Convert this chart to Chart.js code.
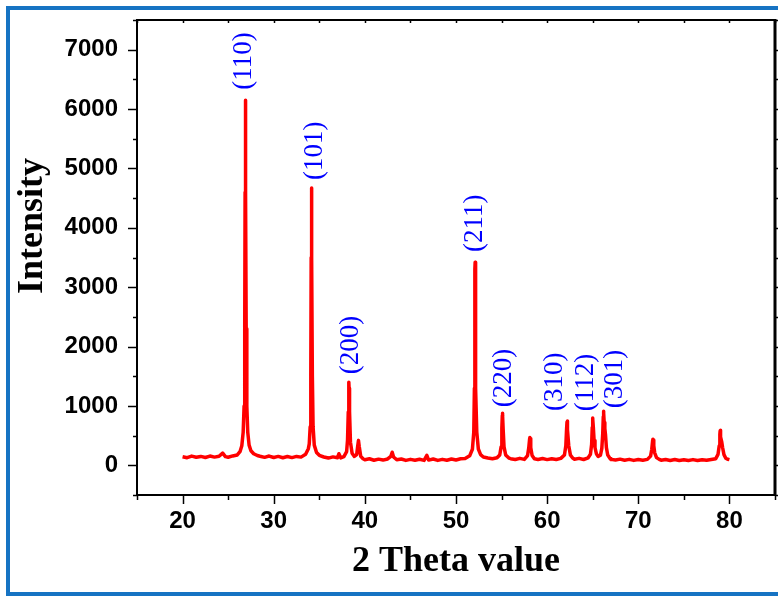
<!DOCTYPE html>
<html>
<head>
<meta charset="utf-8">
<script src="https://cdn.jsdelivr.net/npm/chart.js@4.4.1/dist/chart.umd.min.js"></script>
<style>
  html, body { margin: 0; padding: 0; background: #fff; }
</style>
</head>
<body>
<canvas id="xrdChart" width="778" height="596"></canvas>
<script>
'use strict';

// XRD pattern (2 theta in degrees, intensity in counts)
var twoTheta = [
  20.0, 20.5, 21.0, 21.5, 22.0, 22.5, 23.0, 23.5, 24.0, 24.4, 24.7, 25.0, 25.5, 26.0, 26.3,
  26.5, 26.65, 26.75, 26.82, 26.86, 26.88, 26.9, 26.92, 26.94, 26.98, 27.05, 27.15, 27.3, 27.5, 27.8, 28.2,
  28.5, 29.0, 29.5, 30.0, 30.5, 31.0, 31.5, 32.0, 32.5, 33.0, 33.5, 33.8,
  33.9, 34.0, 34.07, 34.11, 34.13, 34.15, 34.17, 34.19, 34.24, 34.32, 34.45, 34.7, 35.0,
  35.5, 36.0, 36.5, 37.0, 37.15, 37.35, 37.7, 38.0,
  38.1, 38.18, 38.23, 38.25, 38.27, 38.32, 38.42, 38.6, 38.85, 39.1, 39.22, 39.3, 39.38, 39.55, 39.8,
  40.0, 40.5, 41.0, 41.5, 42.0, 42.5, 42.85, 43.0, 43.15, 43.5, 44.0, 44.5, 45.0, 45.5,
  46.0, 46.5, 46.8, 47.0, 47.5, 48.0, 48.5, 49.0, 49.5, 50.0, 50.5, 51.0, 51.5, 51.8,
  51.95, 52.02, 52.06, 52.08, 52.1, 52.12, 52.14, 52.19, 52.28, 52.45, 52.7, 53.0,
  53.5, 54.0, 54.5, 54.8,
  54.95, 55.03, 55.08, 55.1, 55.12, 55.17, 55.27, 55.45, 55.8,
  56.0, 56.5, 57.0, 57.5, 57.85,
  57.98, 58.08, 58.1, 58.12, 58.2, 58.35, 58.6,
  59.0, 59.5, 60.0, 60.5, 61.0, 61.5, 61.9,
  62.05, 62.13, 62.18, 62.2, 62.22, 62.27, 62.37, 62.55, 62.8,
  63.0, 63.5, 64.0, 64.5, 64.75,
  64.88, 64.95, 64.98, 65.0, 65.02, 65.07, 65.15, 65.25, 65.4, 65.6, 65.85, 66.0,
  66.1, 66.16, 66.18, 66.2, 66.22, 66.26, 66.33, 66.4, 66.5, 66.65, 66.9,
  67.0, 67.5, 68.0, 68.5, 69.0, 69.5, 70.0, 70.5, 71.0, 71.35,
  71.48, 71.58, 71.6, 71.62, 71.7, 71.8, 72.0, 72.3,
  72.5, 73.0, 73.5, 74.0, 74.5, 75.0, 75.5, 76.0, 76.5, 77.0, 77.5, 78.0, 78.5, 78.75,
  78.88, 78.95, 78.98, 79.0, 79.02, 79.06, 79.15, 79.25, 79.4, 79.6, 79.8, 80.0
];

var intensity = [
  145, 128, 155, 136, 150, 132, 156, 138, 152, 205, 146, 136, 158, 175, 230,
  330, 560, 1000, 2300, 4600, 5900, 6150, 5900, 4600, 2300, 1000, 560, 340, 245, 195, 165,
  152, 134, 156, 132, 150, 128, 148, 130, 150, 138, 185, 280,
  360, 650, 1500, 3500, 4500, 4670, 4500, 3500, 1500, 650, 340, 215, 168,
  140, 122, 142, 128, 195, 126, 148, 230,
  430, 900, 1300, 1400, 1300, 900, 390, 205, 150, 180, 330, 420, 320, 150, 110,
  94, 110, 86, 104, 88, 107, 150, 220, 140, 93, 107, 83, 100, 86,
  102, 83, 168, 88, 107, 83, 100, 86, 107, 90, 110, 115, 160, 270,
  560, 1300, 2700, 3300, 3420, 3300, 2700, 1300, 560, 275, 180, 140,
  123, 110, 127, 175,
  310, 620, 840, 877, 840, 620, 310, 175, 122,
  112, 98, 117, 100, 165,
  290, 450, 470, 450, 300, 165, 110,
  98, 114, 96, 112, 98, 117, 175,
  330, 600, 730, 747, 730, 600, 330, 175, 122,
  103, 117, 98, 127, 185,
  350, 640, 780, 798, 780, 640, 420, 300, 195, 150, 170, 285,
  540, 820, 890, 910, 880, 720, 620, 520, 300, 172, 115,
  100, 90, 104, 86, 100, 83, 97, 86, 100, 155,
  270, 425, 440, 425, 330, 210, 130, 100,
  86, 98, 82, 97, 80, 94, 82, 96, 80, 94, 84, 98, 112, 185,
  330, 520, 580, 590, 575, 480, 400, 300, 180, 120, 103, 95
];

// Miller indices and where their labels sit (2 theta, intensity at text start)
var peakLabels = ['(110)', '(101)', '(200)', '(211)', '(220)', '(310)', '(112)', '(301)'];
var labelTheta = [27.5, 35.3, 39.26, 52.86, 56.0, 61.6, 65.0, 68.2];
var labelIntensity = [6324, 4806, 1535, 3592, 978, 916, 910, 960];

var xMin = 15, xMax = 85, xStep = 5;
var yMin = -500, yMax = 7500, yStep = 500;

var tickFont = { family: '"Liberation Sans", Arial, sans-serif', size: 24, weight: 'bold' };
var titleFamily = '"Liberation Serif", "Times New Roman", serif';

function line(c, x1, y1, x2, y2) {
  c.beginPath();
  c.moveTo(x1, y1);
  c.lineTo(x2, y2);
  c.stroke();
}

var decorPlugin = {
  id: 'decor',
  beforeDraw: function (chart) {
    var c = chart.ctx;
    c.save();
    c.fillStyle = '#fff';
    c.fillRect(0, 0, chart.width, chart.height);
    c.restore();
  },
  afterDraw: function (chart) {
    var c = chart.ctx;
    var a = chart.chartArea;
    var xs = chart.scales.x;
    var ys = chart.scales.y;
    c.save();

    // outer blue frame (cut off on the right)
    c.fillStyle = '#1673c3';
    c.fillRect(6, 6, chart.width - 6, 4);
    c.fillRect(6, 6, 4, 590);
    c.fillRect(6, 592, chart.width - 6, 4);

    // axes box
    c.strokeStyle = '#000';
    c.lineWidth = 2;
    line(c, a.left, a.top, a.left, a.bottom + 1);
    line(c, a.left - 1, a.bottom, a.right, a.bottom);
    line(c, a.left - 1, a.top, a.right, a.top);
    c.lineWidth = 3;
    line(c, a.right, a.top - 1, a.right, a.bottom + 1);

    // ticks
    c.lineWidth = 1.5;
    xs.ticks.forEach(function (t) {
      var px = Math.round(xs.getPixelForValue(t.value)) + 0.5;
      var len = t.value % 10 === 0 ? 9 : 5;
      line(c, px, a.bottom, px, a.bottom + len);
      line(c, px, a.top, px, a.top + 3);
    });
    ys.ticks.forEach(function (t) {
      var py = Math.round(ys.getPixelForValue(t.value)) + 0.5;
      var len = t.value % 1000 === 0 ? 9 : 4;
      line(c, a.left - len, py, a.left, py);
      line(c, a.right, py, a.right + 4, py);
    });

    // y axis title
    c.fillStyle = '#000';
    c.font = 'bold 36px ' + titleFamily;
    c.textAlign = 'center';
    c.textBaseline = 'alphabetic';
    c.translate(42, 226);
    c.rotate(-Math.PI / 2);
    c.fillText('Intensity', 0, 0);
    c.setTransform(1, 0, 0, 1, 0, 0);

    // peak labels
    c.fillStyle = '#0000ff';
    c.font = '27px ' + titleFamily;
    c.textAlign = 'left';
    peakLabels.forEach(function (txt, i) {
      var px = xs.getPixelForValue(labelTheta[i]);
      var py = ys.getPixelForValue(labelIntensity[i]);
      c.save();
      c.translate(px, py);
      c.rotate(-Math.PI / 2);
      c.fillText(txt, 0, 0);
      c.restore();
    });

    c.restore();
  }
};

var ctx = document.getElementById('xrdChart').getContext('2d');

var xrdChart = new Chart(ctx, {
  type: 'line',
  data: {
    datasets: [
      {
        label: 'XRD',
        data: twoTheta.map(function (t, i) { return { x: t, y: intensity[i] }; }),
        borderColor: '#ff0000',
        borderWidth: 3.5,
        borderJoinStyle: 'round',
        pointRadius: 0,
        tension: 0,
        fill: false
      }
    ]
  },
  options: {
    responsive: false,
    animation: false,
    layout: { padding: { left: 8, top: 20, right: 3, bottom: 3 } },
    plugins: {
      legend: { display: false },
      tooltip: { enabled: false }
    },
    scales: {
      x: {
        type: 'linear',
        min: xMin,
        max: xMax,
        afterFit: function (s) {
          s.height = 98;
          s.paddingLeft = 0;
          s.paddingRight = 0;
        },
        grid: { display: false, drawTicks: false },
        border: { display: false },
        ticks: {
          stepSize: xStep,
          autoSkip: false,
          maxRotation: 0,
          padding: 12,
          color: '#000',
          font: tickFont,
          callback: function (v) { return v % 10 === 0 ? String(v) : ''; }
        },
        title: {
          display: true,
          text: '2 Theta value',
          color: '#000',
          font: { family: titleFamily, size: 36, weight: 'bold' },
          padding: { top: 0, bottom: 10 }
        }
      },
      y: {
        type: 'linear',
        min: yMin,
        max: yMax,
        afterFit: function (s) {
          s.width = 129;
          s.paddingTop = 0;
          s.paddingBottom = 0;
        },
        grid: { display: false, drawTicks: false },
        border: { display: false },
        ticks: {
          stepSize: yStep,
          autoSkip: false,
          padding: 19,
          color: '#000',
          font: tickFont,
          callback: function (v) { return v % 1000 === 0 ? String(v) : ''; }
        }
      }
    }
  },
  plugins: [decorPlugin]
});
</script>
</body>
</html>
